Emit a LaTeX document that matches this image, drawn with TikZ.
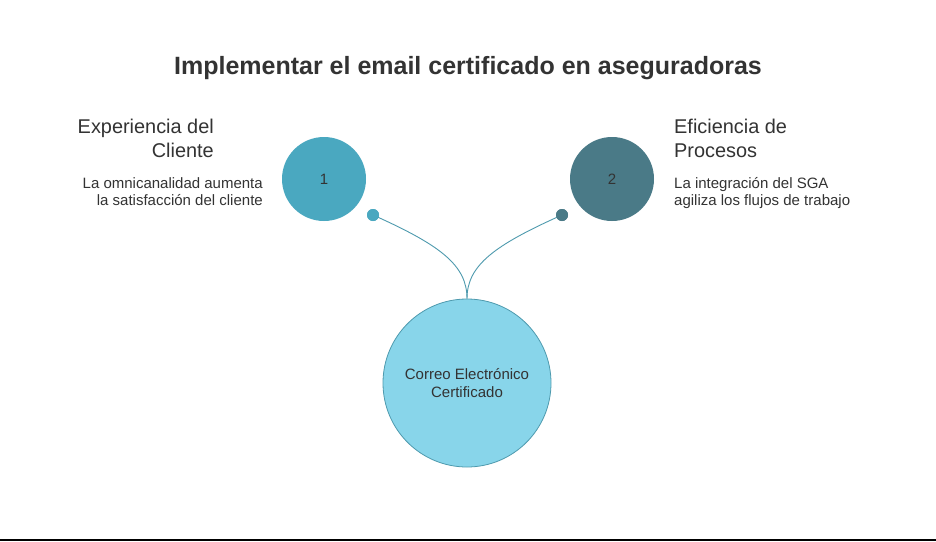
\documentclass[tikz,border=0pt]{standalone}
\usepackage{fontspec}
\setmainfont{Liberation Sans}
\definecolor{tealA}{HTML}{4AA8C0}
\definecolor{tealB}{HTML}{4A7A87}
\definecolor{skyC}{HTML}{88D5EA}
\definecolor{edgeC}{HTML}{4E9AAE}
\definecolor{inkC}{HTML}{333333}
\tikzset{
  bubble/.style={circle, inner sep=0pt, text=inkC, font=\fontsize{15}{18}\selectfont},
  knob/.style={circle, inner sep=0pt, minimum size=12pt},
  headtext/.style={text=inkC, inner sep=0pt, font=\fontsize{19.9}{23.5}\selectfont},
  desctext/.style={text=inkC, inner sep=0pt, font=\fontsize{15}{17.5}\selectfont},
  wire/.style={draw=edgeC, line width=0.9pt}
}
\begin{document}
\begin{tikzpicture}[x=1pt,y=-1pt]
		%%%%% START %%%%%
		\useasboundingbox (0, 0) rectangle (936, 541);
		\fill[white] (0, 0) rectangle (936, 541);
		
		\node[text=inkC, font=\bfseries\fontsize{25}{30}\selectfont] (title) at (468, 68) {Implementar el email certificado en aseguradoras};
		
		\node[bubble, fill=tealA, minimum size=84pt] (one) at (324, 179) {1};
		\node[bubble, fill=tealB, minimum size=84pt] (two) at (612, 179) {2};
		\node[bubble, fill=skyC, draw=edgeC, line width=0.8pt, minimum size=168pt, align=center] (mail) at (467, 383) {Correo Electrónico\\Certificado};
		
		\node[knob, fill=tealA] (knobA) at (373, 215) {};
		\node[knob, fill=tealB] (knobB) at (562, 215) {};
		
		\draw[wire] (knobA.center) .. controls (440, 245) and (467, 265) .. (mail.north);
		\draw[wire] (knobB.center) .. controls (495, 245) and (467, 265) .. (mail.north);
		\node[knob, fill=tealA] at (knobA) {};
		\node[knob, fill=tealB] at (knobB) {};
		
		\node[headtext, align=right, anchor=north east] (headA) at (214, 119) {Experiencia del\\Cliente};
		\node[desctext, align=right, anchor=north east] (descA) at (263, 177) {La omnicanalidad aumenta\\la satisfacción del cliente};
		
		\node[headtext, align=left, anchor=north west] (headB) at (674, 119) {Eficiencia de\\Procesos};
		\node[desctext, align=left, anchor=north west] (descB) at (674, 177) {La integración del SGA\\agiliza los flujos de trabajo};
		
		\draw[line width=1.5pt] (0, 540) -- (936, 540);
		%%%%% END %%%%%
\end{tikzpicture}
\end{document}
